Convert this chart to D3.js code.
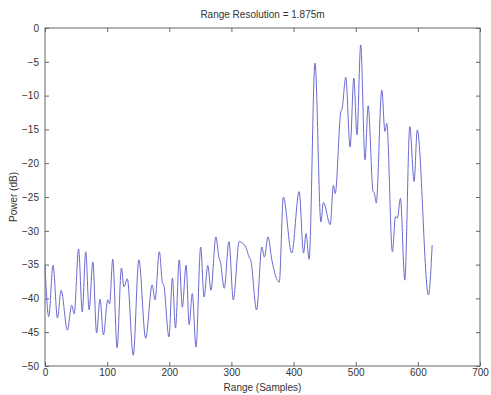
<!DOCTYPE html>
<html>
<head>
<meta charset="utf-8">
<script src="https://cdn.jsdelivr.net/npm/d3@7"></script>
<style>
    body { margin: 0; background: #fff; }
    svg text { font-family: "Liberation Sans", Arial, sans-serif; fill: #333; }
    .tick-label { font-size: 10px; }
    .axis-label { font-size: 10px; }
    .title { font-size: 10px; }
</style>
</head>
<body>
<svg id="chart" width="491" height="395"></svg>
<script>
// samples (x) and power in dB (y) at the turning points
const samples = [0, 6, 13, 20, 26, 36, 43, 47, 54, 60, 65.5, 71, 77, 83, 88.5, 94, 101, 104, 109, 116,
    123, 127, 132.5, 142, 151, 162, 172.5, 177, 184, 189, 191, 199.5, 205, 210, 216, 221, 227, 232, 237, 243,
    250.5, 256, 262, 267, 275, 280, 282, 288.5, 296, 303, 312.5, 323, 329, 331, 340.5, 349, 353, 359, 365, 377,
    383.5, 397, 409, 416, 420, 425, 434.5, 444, 448, 459, 464, 467, 476, 478, 484, 491, 497, 502, 508, 515,
    520, 528, 530, 533, 542, 547, 550, 559, 564, 567, 572, 579, 587, 594, 599, 617, 623];
const power = [-35.2, -42.7, -35.1, -42.9, -38.8, -44.7, -41, -42.3, -32.7, -42, -33.1, -41.7, -34.6, -45.1, -40.1, -45.4, -40.2, -40.8, -34.2, -47.3,
    -35.5, -38.3, -37.1, -48.4, -34.3, -45.9, -38, -40.2, -33.1, -37.7, -38, -45.7, -37, -44.4, -34.3, -41.3, -35.1, -43.9, -39.3, -47.2,
    -32.4, -39.8, -35.1, -38.8, -30.9, -34.0, -34.5, -38.5, -31.6, -40.2, -31.6, -32.4, -34, -34.3, -41.7, -32.4, -33.9, -30.9, -34.3, -37.6,
    -25, -33.3, -24.2, -33.3, -30.4, -34.2, -5.2, -28.7, -25.8, -29.1, -23.3, -24.5, -12.4, -12.0, -7.3, -17.6, -7.4, -15.8, -2.5, -19.5,
    -11.5, -24.2, -24.4, -25.9, -9.2, -15.3, -14.1, -33.1, -27.9, -28.1, -25.2, -37.3, -14.6, -22.7, -15.1, -39.5, -32.1];
const xTicks = [0, 100, 200, 300, 400, 500, 600, 700];
const yTicks = [0, -5, -10, -15, -20, -25, -30, -35, -40, -45, -50];

const plotLeft = 45, plotRight = 480, plotTop = 28, plotBottom = 366;
const svg = d3.select("#chart");

const x = d3.scaleLinear().domain([0, 700]).range([plotLeft, plotRight]);
const y = d3.scaleLinear().domain([-50, 0]).range([plotBottom, plotTop]);

// box
svg.append("rect")
    .attr("x", plotLeft).attr("y", plotTop)
    .attr("width", plotRight - plotLeft).attr("height", plotBottom - plotTop)
    .attr("fill", "#fff").attr("stroke", "#666").attr("stroke-width", 1);

// ticks inward on all four sides
const tickLen = 4;
let xAxisB = d3.axisBottom(x).tickValues(xTicks).tickSizeInner(-tickLen).tickSizeOuter(0).tickPadding(3);
let xAxisT = d3.axisTop(x).tickValues(xTicks).tickSizeInner(-tickLen).tickSizeOuter(0).tickFormat("");
let yAxisL = d3.axisLeft(y).tickValues(yTicks).tickSizeInner(-tickLen).tickSizeOuter(0).tickPadding(6);
let yAxisR = d3.axisRight(y).tickValues(yTicks).tickSizeInner(-tickLen).tickSizeOuter(0).tickFormat("");

function styleAxis(g) {
    g.select(".domain").remove();
    g.selectAll(".tick line").attr("stroke", "#666");
    g.selectAll(".tick text").attr("class", "tick-label");
    g.attr("font-family", null).attr("font-size", null);
}

svg.append("g").attr("transform", `translate(0,${plotBottom})`).call(xAxisB).call(styleAxis);
svg.append("g").attr("transform", `translate(0,${plotTop})`).call(xAxisT).call(styleAxis);
svg.append("g").attr("transform", `translate(${plotLeft},0)`).call(yAxisL).call(styleAxis);
svg.append("g").attr("transform", `translate(${plotRight},0)`).call(yAxisR).call(styleAxis);

// line
const line = d3.line()
    .x((d, i) => x(samples[i]))
    .y(d => y(d))
    .curve(d3.curveMonotoneX);

svg.append("path")
    .datum(power)
    .attr("fill", "none")
    .attr("stroke", "#6a6ad0")
    .attr("stroke-width", 1)
    .attr("d", line);

// labels
svg.append("text")
    .attr("class", "title")
    .attr("x", (plotLeft + plotRight) / 2).attr("y", 18)
    .attr("text-anchor", "middle")
    .text("Range Resolution = 1.875m");

svg.append("text")
    .attr("class", "axis-label")
    .attr("x", (plotLeft + plotRight) / 2).attr("y", 391)
    .attr("text-anchor", "middle")
    .text("Range (Samples)");

svg.append("text")
    .attr("class", "axis-label")
    .attr("transform", `translate(17,${(plotTop + plotBottom) / 2}) rotate(-90)`)
    .attr("text-anchor", "middle")
    .text("Power (dB)");
</script>
</body>
</html>
